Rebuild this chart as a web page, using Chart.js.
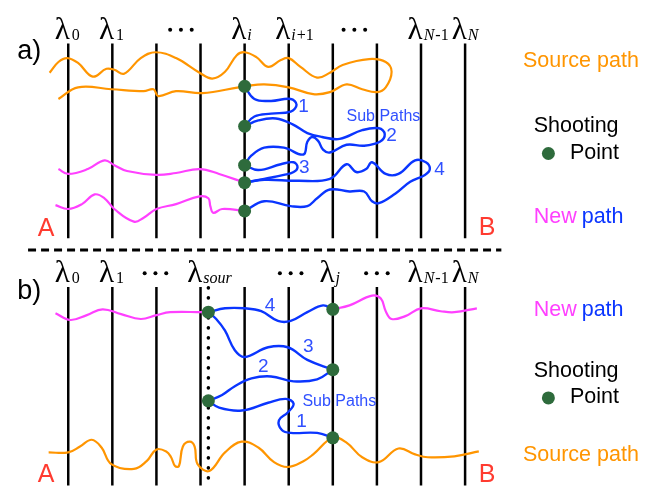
<!DOCTYPE html>
<html>
<head>
<meta charset="utf-8">
<script src="https://cdn.jsdelivr.net/npm/chart.js@4.4.1/dist/chart.umd.min.js"></script>
<style>
  html, body { margin: 0; padding: 0; background: #fff; }
  canvas { display: block; }
</style>
</head>
<body>
<canvas id="pathChart" width="647" height="492"></canvas>
<script>
// Lambda interfaces (x) shared by both panels
const lambdaX = [63, 108, 153, 198, 243, 288, 333, 378, 423, 468];

// Panel a) paths as [x, y]
const sourcePathA = [[44,68],[53,57],[62,53],[73,58],[88,72],[102,64],[110,65],[120,69],[137,53],[152,47],[173,53],[197,68],[210,74],[223,67],[235,50],[243,47],[255,52],[267,62],[280,55],[288,53],[300,62],[317,73],[330,68],[343,60],[370,54],[387,57],[393,67],[387,83],[378,88],[363,85],[347,80],[330,88],[313,90],[288,83],[263,80],[243,82],[237,83],[200,89],[173,87],[155,92],[150,85],[140,87],[107,85],[73,83],[53,95]];
const newPathA1 = [[53,167],[63,172],[83,167],[100,158],[110,163],[123,169],[153,173],[173,171],[197,167],[217,172],[243,181]];
const newPathA2 = [[50,204],[63,208],[77,203],[90,193],[100,197],[110,208],[130,221],[140,217],[153,208],[173,203],[197,195],[206,197],[208,205],[211,212],[220,208],[243,210]];
const subPathA1 = [[243,82],[253,95],[270,97],[290,95],[296,101],[290,108],[270,110],[253,113],[243,123]];
const subPathA2 = [[243,123],[257,117],[275,115],[292,121],[307,130],[322,134],[340,136],[363,127],[380,125],[386,131],[381,139],[365,143],[347,142],[330,150],[323,147],[318,138],[312,134],[307,139],[303,152],[283,145],[263,145],[250,153],[243,163]];
const subPathA3 = [[243,163],[257,168],[280,162],[293,160],[297,165],[293,170],[283,173],[263,177],[243,181]];
const subPathA4 = [[243,181],[263,178],[297,179],[330,177],[347,162],[357,170],[367,167],[373,160],[387,172],[400,172],[417,158],[428,160],[432,167],[427,173],[412,180],[397,192],[380,202],[373,200],[365,190],[350,190],[330,188],[317,197],[307,205],[290,205],[263,200],[243,210]];
const shootingA = [[243,82],[243,123],[243,163],[243,181],[243,210]];

// Panel b) paths
const sourcePathB = [[43,458],[63,458],[75,452],[87,445],[97,453],[107,470],[130,475],[143,467],[153,455],[163,457],[168,463],[172,472],[176,472],[180,452],[187,447],[192,452],[195,470],[207,477],[223,458],[240,447],[257,453],[273,468],[287,473],[303,467],[313,460],[333,443],[347,448],[363,463],[380,468],[400,454],[417,460],[430,463],[457,462],[482,457]];
const newPathB1 = [[50,315],[65,322],[82,317],[98,311],[117,316],[137,321],[153,317],[167,314],[200,314],[206,314]];
const newPathB2 = [[333,311],[350,307],[373,297],[382,300],[387,313],[393,321],[407,318],[423,310],[443,313],[457,314],[480,310]];
const subPathB4 = [[206,314],[223,310],[243,310],[260,313],[277,323],[290,323],[307,314],[323,307],[333,311]];
const subPathB3 = [[206,314],[214,321],[223,333],[233,353],[243,360],[267,350],[287,350],[307,363],[333,373]];
const subPathB2 = [[333,373],[317,383],[293,385],[270,380],[250,382],[233,390],[220,399],[206,405]];
const subPathB1 = [[206,405],[217,412],[240,415],[267,407],[285,403],[293,408],[287,417],[278,425],[281,435],[290,438],[317,438],[333,443]];
const shootingB = [[206,314],[333,311],[333,373],[206,405],[333,443]];

// Top labels: subscript per lambda as [italic part, upright part], '...' marks an ellipsis
const labelsA = [['', '0'], ['', '1'], '...', ['i', ''], ['i', '+1'], '...', ['N', '-1'], ['N', '']];
const labelsB = [['', '0'], ['', '1'], '...', ['sour', ''], '...', ['j', ''], '...', ['N', '-1'], ['N', '']];

const ORANGE = '#FF9500';
const MAGENTA = '#FF40FF';
const BLUE = '#0A35FF';
const GREEN = '#2E6B3C';
const RED = '#FF3B30';

function pts(arr) {
    return arr.map(p => ({ x: p[0], y: p[1] }));
}

function curve(arr, color, width, extra) {
    return Object.assign({
        data: pts(arr),
        showLine: true,
        borderColor: color,
        borderWidth: width,
        tension: 0.4,
        pointRadius: 0,
        fill: false,
        order: 1
    }, extra || {});
}

const datasets = [];

// vertical interface lines
lambdaX.forEach(x => {
    datasets.push(curve([[x, 38], [x, 238]], '#000', 2.5, { tension: 0, order: 3 }));
    datasets.push(curve([[x, 288], [x, 495]], '#000', 2.5, { tension: 0, order: 3 }));
});
// dotted source interface in b)
datasets.push(curve([[206, 289], [206, 495]], '#000', 3.5, { tension: 0, order: 3, borderDash: [0.1, 9.9], borderCapStyle: 'round' }));
// panel separator
datasets.push(curve([[22, 250], [505, 250]], '#000', 3, { tension: 0, order: 3, borderDash: [8, 5] }));

[sourcePathA, sourcePathB].forEach(p => datasets.push(curve(p, ORANGE, 2.2)));
[newPathA1, newPathA2, newPathB1, newPathB2].forEach(p => datasets.push(curve(p, MAGENTA, 2.2)));
[subPathA1, subPathA2, subPathA3, subPathA4, subPathB1, subPathB2, subPathB3, subPathB4]
    .forEach(p => datasets.push(curve(p, BLUE, 2.4)));

// shooting points + legend dots
datasets.push({
    data: pts(shootingA.concat(shootingB, [[553, 151], [553, 402]])),
    pointRadius: 6.5,
    pointBackgroundColor: GREEN,
    pointBorderWidth: 0,
    order: 0
});

// text and lambda labels
const annotations = {
    id: 'annotations',
    afterDatasetsDraw(chart) {
        const { ctx, scales: { x, y } } = chart;
        const px = v => x.getPixelForValue(v);
        const py = v => y.getPixelForValue(v);
        ctx.save();

        function text(str, xv, yv, size, color, align) {
            ctx.font = size + 'px "Liberation Sans", Arial, sans-serif';
            ctx.fillStyle = color;
            ctx.textAlign = align || 'left';
            ctx.textBaseline = 'middle';
            ctx.fillText(str, px(xv), py(yv));
            return ctx.measureText(str).width;
        }

        function lambda(xv, base, sub) {
            ctx.fillStyle = '#000';
            ctx.textBaseline = 'alphabetic';
            if (sub === '...') {
                for (let k = -1; k <= 1; k++) {
                    ctx.beginPath();
                    ctx.arc(px(xv + k * 11), py(base - 9), 2, 0, Math.PI * 2);
                    ctx.fill();
                }
                return;
            }
            ctx.font = '31px "Liberation Serif", serif';
            ctx.textAlign = 'center';
            ctx.fillText('\u03BB', px(xv - 6), py(base));
            const w = ctx.measureText('\u03BB').width;
            let sx = px(xv - 6) + w / 2 + 1;
            ctx.textAlign = 'left';
            ctx.font = 'italic 16px "Liberation Serif", serif';
            ctx.fillText(sub[0], sx, py(base + 1));
            sx += ctx.measureText(sub[0]).width + 1;
            ctx.font = '16px "Liberation Serif", serif';
            ctx.fillText(sub[1], sx, py(base + 1));
        }

        const posA = [63, 108, 178, 243, 288, 355, 423, 468];
        labelsA.forEach((s, i) => lambda(posA[i], 33, s));
        const posB = [63, 108, 152, 198, 290, 333, 378, 423, 468];
        labelsB.forEach((s, i) => lambda(posB[i], 283, s));

        text('a)', 11, 46, 27, '#000');
        text('b)', 11, 293, 27, '#000');
        text('A', 32, 229, 25, RED);
        text('B', 482, 228, 25, RED);
        text('A', 32, 481, 25, RED);
        text('B', 482, 481, 25, RED);

        // sub path numbers
        const LB = '#3050FF';
        text('1', 303, 103, 19, LB, 'center');
        text('Sub Paths', 347, 113, 16, LB);
        text('2', 393, 133, 19, LB, 'center');
        text('3', 304, 166, 19, LB, 'center');
        text('4', 442, 168, 19, LB, 'center');
        text('4', 269, 307, 19, LB, 'center');
        text('3', 308, 350, 19, LB, 'center');
        text('2', 262, 370, 19, LB, 'center');
        text('Sub Paths', 302, 406, 16, LB);
        text('1', 301, 427, 19, LB, 'center');

        // side legends
        text('Source path', 527, 56, 21.5, ORANGE);
        text('Shooting', 538, 123, 21.5, '#000');
        text('Point', 575, 151, 21.5, '#000');
        let w = text('New ', 538, 216, 21.5, MAGENTA);
        text('path', 538 + w, 216, 21.5, BLUE);

        w = text('New ', 538, 312, 21.5, MAGENTA);
        text('path', 538 + w, 312, 21.5, BLUE);
        text('Shooting', 538, 374, 21.5, '#000');
        text('Point', 575, 401, 21.5, '#000');
        text('Source path', 527, 461, 21.5, ORANGE);

        ctx.restore();
    }
};

new Chart(document.getElementById('pathChart'), {
    type: 'scatter',
    data: { datasets: datasets },
    options: {
        responsive: false,
        animation: false,
        layout: { padding: 0 },
        plugins: {
            legend: { display: false },
            tooltip: { enabled: false }
        },
        scales: {
            x: { type: 'linear', min: 0, max: 647, display: false },
            y: { type: 'linear', min: 0, max: 492, reverse: true, display: false }
        }
    },
    plugins: [annotations]
});
</script>
</body>
</html>
